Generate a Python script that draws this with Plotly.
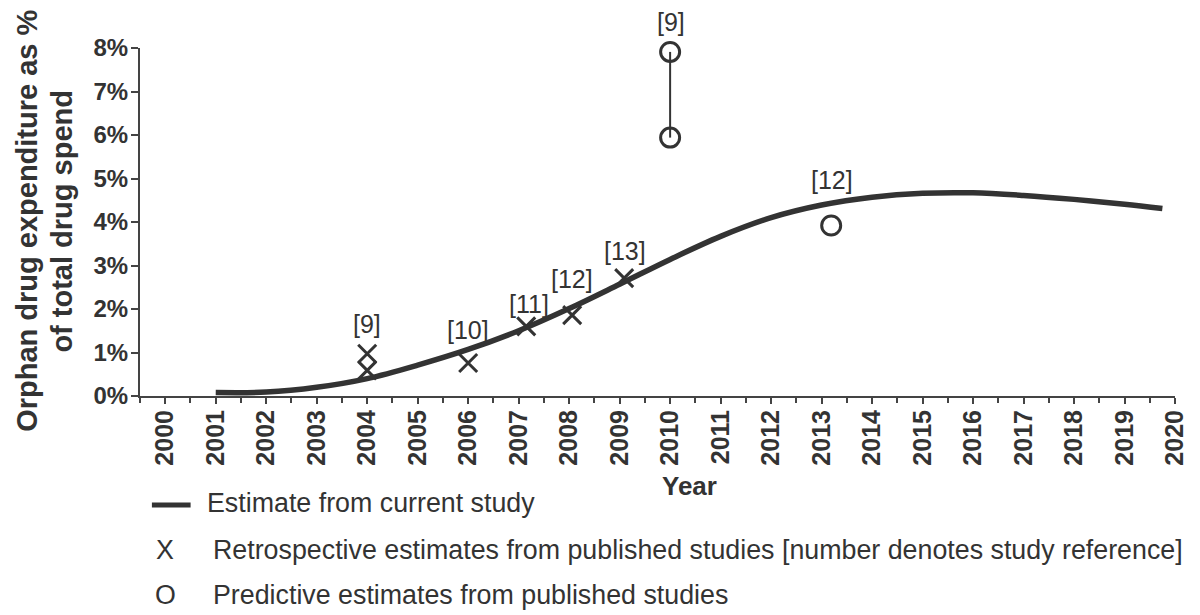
import plotly.graph_objects as go

# Estimate from current study (curve)
curve_years = [2001, 2002, 2003, 2004, 2005, 2006, 2007, 2008, 2009, 2010,
               2011, 2012, 2013, 2014, 2015, 2016, 2017, 2018, 2019, 2019.75]
curve_vals = [0.08, 0.09, 0.20, 0.40, 0.71, 1.07, 1.50, 2.01, 2.57, 3.14,
              3.67, 4.10, 4.39, 4.57, 4.66, 4.67, 4.61, 4.52, 4.41, 4.31]

# Retrospective estimates (x markers)
retro_years = [2004, 2004, 2006, 2007.15, 2008.06, 2009.09]
retro_vals = [0.97, 0.59, 0.76, 1.60, 1.86, 2.71]

# Predictive estimates (o markers)
pred_pair_years = [2010, 2010]
pred_pair_vals = [5.94, 7.91]
pred_single_years = [2013.19]
pred_single_vals = [3.92]

# Reference labels
ref_labels = ["[9]", "[10]", "[11]", "[12]", "[13]", "[9]", "[12]"]
ref_x = [2004, 2006, 2007.2, 2008.05, 2009.1, 2010.02, 2013.2]
ref_y = [1.66, 1.51, 2.12, 2.70, 3.33, 8.60, 4.97]

year_ticks = list(range(2000, 2021))
pct_ticks = list(range(0, 9))
Y_MAX = 8

y_title_lines = ["Orphan drug expenditure as %", "of total drug spend"]
legend_texts = ["Estimate from current study",
                "Retrospective estimates from published studies [number denotes study reference]",
                "Predictive estimates from published studies"]

DARK = "#333333"
FONT = "Liberation Sans, Arial, sans-serif"

W, H = 1200, 615
L, R, T, B = 140, 17, 48, 219
PW, PH = W - L - R, H - T - B


def px(x):
    return (x - L) / PW


def py(y):
    return (H - B - y) / PH


fig = go.Figure()

fig.add_trace(go.Scatter(
    x=curve_years, y=curve_vals, mode="lines",
    line=dict(color=DARK, width=5.5, shape="spline", smoothing=1.0),
    showlegend=False, hoverinfo="skip"))

fig.add_trace(go.Scatter(
    x=pred_pair_years, y=pred_pair_vals, mode="lines+markers",
    line=dict(color=DARK, width=2),
    marker=dict(symbol="circle-open", size=19, color=DARK, line=dict(width=3, color=DARK)),
    showlegend=False, cliponaxis=False))

fig.add_trace(go.Scatter(
    x=pred_single_years, y=pred_single_vals, mode="markers",
    marker=dict(symbol="circle-open", size=19, color=DARK, line=dict(width=3, color=DARK)),
    showlegend=False, cliponaxis=False))

fig.add_trace(go.Scatter(
    x=retro_years, y=retro_vals, mode="markers",
    marker=dict(symbol="x-thin-open", size=18, color=DARK, line=dict(width=3, color=DARK)),
    showlegend=False, cliponaxis=False))

annotations = []
for t, xv, yv in zip(ref_labels, ref_x, ref_y):
    # y given as fraction of the y-axis range so labels above the axis top still show
    annotations.append(dict(x=xv, y=yv / Y_MAX, xref="x", yref="y domain", text=t,
                            showarrow=False, xanchor="center", yanchor="middle",
                            font=dict(family=FONT, size=25, color=DARK)))

# Axis titles
for line_text, cx in zip(y_title_lines, [26, 61]):
    annotations.append(dict(x=px(cx), y=py(221), xref="paper", yref="paper",
                            xanchor="center", yanchor="middle",
                            text=f"<b>{line_text}</b>", textangle=-90, showarrow=False,
                            font=dict(family=FONT, size=29, color=DARK)))
annotations.append(dict(x=px(694), y=py(486), xref="paper", yref="paper",
                        xanchor="center", yanchor="middle",
                        text="<b>Year</b>", showarrow=False,
                        font=dict(family=FONT, size=26, color=DARK)))

# Legend
leg_font = dict(family=FONT, size=26.8, color=DARK)
annotations.append(dict(x=px(206), y=py(503), xref="paper", yref="paper",
                        xanchor="left", yanchor="middle",
                        text=legend_texts[0], showarrow=False, font=leg_font))
annotations.append(dict(x=px(165), y=py(550), xref="paper", yref="paper",
                        xanchor="center", yanchor="middle",
                        text="X", showarrow=False, font=leg_font))
annotations.append(dict(x=px(212), y=py(550), xref="paper", yref="paper",
                        xanchor="left", yanchor="middle",
                        text=legend_texts[1], showarrow=False, font=leg_font))
annotations.append(dict(x=px(166), y=py(595), xref="paper", yref="paper",
                        xanchor="center", yanchor="middle",
                        text="O", showarrow=False, font=leg_font))
annotations.append(dict(x=px(212), y=py(595), xref="paper", yref="paper",
                        xanchor="left", yanchor="middle",
                        text=legend_texts[2], showarrow=False, font=leg_font))

shapes = [dict(type="line", xref="paper", yref="paper",
               x0=px(152), x1=px(191), y0=py(505), y1=py(505),
               line=dict(color=DARK, width=5))]

fig.update_layout(
    width=W, height=H,
    margin=dict(l=L, r=R, t=T, b=B, pad=0),
    plot_bgcolor="white", paper_bgcolor="white",
    font=dict(family=FONT, color=DARK),
    annotations=annotations, shapes=shapes,
    xaxis=dict(range=[1999.5, 2020], tickmode="array", tickvals=year_ticks,
               ticktext=[f"<b>{y}</b>" for y in year_ticks],
               tickangle=-90, ticks="outside", ticklen=6, tickwidth=2, tickcolor="#444",
               minor=dict(ticks="outside", ticklen=5, tickwidth=2, tickcolor="#444",
                          tick0=1999.5, dtick=1),
               ticklabelstandoff=-4,
               showline=True, linecolor="#444", linewidth=2, showgrid=False, zeroline=False,
               tickfont=dict(family=FONT, size=25, color=DARK), fixedrange=True),
    yaxis=dict(range=[0, Y_MAX], tickmode="array", tickvals=pct_ticks,
               ticktext=[f"<b>{v}%</b>" for v in pct_ticks],
               ticks="outside", ticklen=7, tickwidth=2, tickcolor="#444",
               ticklabelstandoff=-2,
               showline=True, linecolor="#444", linewidth=2, showgrid=False, zeroline=False,
               tickfont=dict(family=FONT, size=24, color=DARK), fixedrange=True),
)

fig.write_html("out.html", config={"displayModeBar": False},
               post_script="document.body.style.margin='0';document.body.style.padding='0';")
